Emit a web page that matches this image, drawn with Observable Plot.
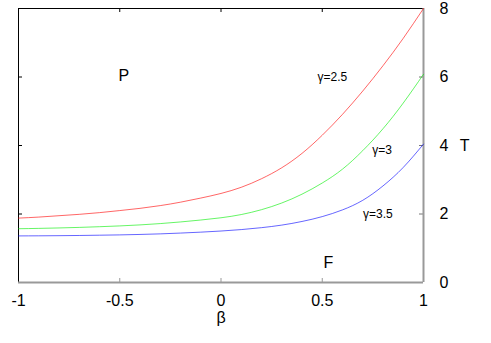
<!DOCTYPE html>
<html>
<head>
<meta charset="utf-8">
<script src="https://cdn.jsdelivr.net/npm/d3@7"></script>
<script src="https://cdn.jsdelivr.net/npm/@observablehq/plot@0.6"></script>
<style>
  html, body { margin: 0; padding: 0; background: #fff; }
  svg { display: block; }
</style>
</head>
<body>
<div id="chart"></div>
<script>
const beta = [-1, -0.9, -0.8, -0.7, -0.6, -0.5, -0.4, -0.3, -0.2, -0.1, 0, 0.1, 0.2, 0.3, 0.4, 0.5, 0.6, 0.7, 0.8, 0.9, 1];
const T_g25 = [1.88, 1.91, 1.95, 1.99, 2.04, 2.10, 2.165, 2.245, 2.345, 2.465, 2.60, 2.78, 3.03, 3.35, 3.77, 4.30, 4.91, 5.59, 6.33, 7.13, 8.0];
const T_g3  = [1.57, 1.58, 1.593, 1.609, 1.629, 1.652, 1.682, 1.72, 1.768, 1.824, 1.89, 1.984, 2.126, 2.321, 2.579, 2.905, 3.31, 3.85, 4.49, 5.24, 6.08];
const T_g35 = [1.36, 1.363, 1.367, 1.373, 1.381, 1.39, 1.403, 1.42, 1.443, 1.47, 1.503, 1.545, 1.601, 1.676, 1.782, 1.924, 2.12, 2.40, 2.82, 3.36, 4.04];
const seriesNames = ["γ=2.5", "γ=3", "γ=3.5"];
const seriesColors = ["#ff0000", "#00ee00", "#0000ff"];
const curveLabelX = [0.55, 0.795, 0.775];
const curveLabelT = [6.0, 3.85, 1.99];
const regionNames = ["P", "F"];
const regionX = [-0.48, 0.53];
const regionT = [6.04, 0.58];
const xTicks = [-1, -0.5, 0, 0.5, 1];
const yTicks = [0, 2, 4, 6, 8];

const allSeries = [T_g25, T_g3, T_g35];
const lines = [];
allSeries.forEach((vals, i) => vals.forEach((t, j) => lines.push({beta: beta[j], T: t, s: seriesNames[i]})));
const curveLabels = seriesNames.map((n, i) => ({name: n, x: curveLabelX[i], T: curveLabelT[i]}));
const regions = regionNames.map((n, i) => ({name: n, x: regionX[i], T: regionT[i]}));
const innerX = xTicks.slice(1, -1);
const innerY = yTicks.slice(1, -1);

const font = "Arial, 'Liberation Sans', Helvetica, sans-serif";
const chart = Plot.plot({
  width: 491,
  height: 343,
  marginLeft: 18,
  marginRight: 68,
  marginTop: 8,
  marginBottom: 61,
  style: {fontFamily: font, background: "#fff"},
  x: {domain: [-1, 1]},
  y: {domain: [0, 8]},
  color: {domain: seriesNames, range: seriesColors},
  marks: [
    Plot.axisX(xTicks, {anchor: "bottom", tickSize: 0, tickPadding: 12, fontSize: 16, label: null, tickFormat: d => String(d), color: "#000"}),
    Plot.axisY(yTicks, {anchor: "right", tickSize: 0, tickPadding: 16, fontSize: 16, label: null, tickFormat: d => String(d), color: "#000"}),
    // inward tick marks
    Plot.tickX(innerX, {x: d => d, insetTop: 270, stroke: "#999", strokeWidth: 1}),
    Plot.tickX(innerX, {x: d => d, insetBottom: 270, stroke: "#000", strokeWidth: 1}),
    Plot.tickY(innerY, {y: d => d, insetRight: 401, stroke: "#000", strokeWidth: 1}),
    Plot.tickY(innerY, {y: d => d, insetLeft: 401, stroke: "#777", strokeWidth: 1}),
    // frame
    Plot.ruleY([8], {stroke: "#000", strokeWidth: 1}),
    Plot.ruleX([-1], {stroke: "#000", strokeWidth: 1}),
    Plot.ruleY([0], {stroke: "#999", strokeWidth: 2}),
    Plot.ruleX([1], {stroke: "#999", strokeWidth: 2}),
    // curves
    Plot.line(lines, {x: "beta", y: "T", z: "s", stroke: "s", strokeWidth: 1, curve: "natural", strokeOpacity: 0.6}),
    Plot.text(curveLabels, {x: "x", y: "T", text: "name", fontSize: 12, fill: "#000"}),
    Plot.text(regions, {x: "x", y: "T", text: "name", fontSize: 16, fill: "#000"}),
    Plot.text(["β"], {text: d => d, frameAnchor: "bottom", dy: 40, fontSize: 16, fill: "#000"}),
    Plot.text(["T"], {text: d => d, frameAnchor: "right", dx: 46, fontSize: 16, fill: "#000"})
  ]
});
document.getElementById("chart").appendChild(chart);
</script>
</body>
</html>
